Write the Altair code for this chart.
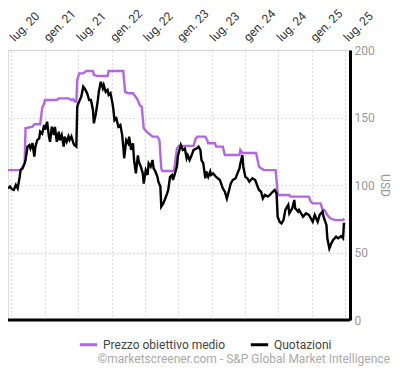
import altair as alt
import pandas as pd

# Prezzo obiettivo medio (average target price), USD
target_dates = ["2020-06-12", "2020-08-20", "2020-08-31", "2020-09-11", "2020-09-16", "2020-10-24",
                "2020-11-03", "2020-12-05", "2020-12-16", "2020-12-27", "2021-01-01", "2021-03-06",
                "2021-03-17", "2021-05-09", "2021-05-25", "2021-06-05", "2021-06-10", "2021-06-21",
                "2021-06-26", "2021-07-07", "2021-07-29", "2021-08-14", "2021-09-20", "2021-09-25",
                "2021-10-17", "2021-12-09", "2021-12-15", "2022-03-05", "2022-03-15", "2022-04-01",
                "2022-04-27", "2022-05-19", "2022-06-04", "2022-06-14", "2022-06-25", "2022-07-11",
                "2022-08-12", "2022-09-08", "2022-09-19", "2022-09-29", "2022-10-05", "2022-12-08",
                "2022-12-24", "2023-01-04", "2023-03-25", "2023-04-04", "2023-04-15", "2023-05-28",
                "2023-06-08", "2023-06-13", "2023-07-20", "2023-07-26", "2023-09-01", "2023-09-12",
                "2023-12-01", "2023-12-06", "2023-12-17", "2024-03-01", "2024-03-17", "2024-03-28",
                "2024-04-13", "2024-06-16", "2024-06-27", "2024-07-02", "2024-08-30", "2024-09-04",
                "2024-12-15", "2024-12-25", "2025-01-05", "2025-02-17", "2025-02-28", "2025-03-10",
                "2025-03-26", "2025-04-11", "2025-05-08", "2025-06-20", "2025-06-25"]
target_values = [111, 111, 113.6, 116, 142, 143.2,
                 145, 145, 157, 160.5, 163, 163,
                 164.2, 164.2, 163, 163.5, 162, 161.7,
                 177.8, 182.7, 182.7, 184.4, 184.4, 181.5,
                 180.7, 180.7, 184.4, 184.4, 169, 168,
                 168, 164, 159, 158, 142, 139.5,
                 135.8, 135.8, 133.3, 112.3, 110.4, 110.4,
                 127, 129, 129, 134, 135.8, 135.8,
                 133, 130.9, 130.9, 128.4, 128.4, 122.2,
                 122.2, 126, 123.7, 123.7, 113.6, 112.3,
                 111, 111, 93.8, 92.6, 92.6, 91.4,
                 91.4, 87.7, 86.4, 86.4, 81.5, 81.5,
                 77.8, 75.3, 74, 74, 75.3]

# Quotazioni (share price), USD
price_dates = ["2020-06-12", "2020-06-23", "2020-07-03", "2020-07-14", "2020-07-25", "2020-08-04",
               "2020-08-15", "2020-08-20", "2020-08-31", "2020-09-11", "2020-09-16", "2020-09-27",
               "2020-10-07", "2020-10-13", "2020-10-24", "2020-11-03", "2020-11-09", "2020-11-19",
               "2020-11-30", "2020-12-05", "2020-12-16", "2020-12-27", "2021-01-01", "2021-01-12",
               "2021-01-22", "2021-01-28", "2021-02-07", "2021-02-18", "2021-02-24", "2021-03-06",
               "2021-03-17", "2021-03-22", "2021-04-02", "2021-04-13", "2021-04-18", "2021-04-29",
               "2021-05-09", "2021-05-15", "2021-05-25", "2021-06-05", "2021-06-10", "2021-06-21",
               "2021-06-26", "2021-07-02", "2021-07-18", "2021-07-29", "2021-08-08", "2021-08-19",
               "2021-08-30", "2021-09-09", "2021-09-20", "2021-09-25", "2021-10-06", "2021-10-17",
               "2021-10-22", "2021-11-02", "2021-11-13", "2021-11-18", "2021-11-29", "2021-12-09",
               "2021-12-15", "2021-12-25", "2022-01-05", "2022-01-10", "2022-01-16", "2022-01-26",
               "2022-02-06", "2022-02-17", "2022-02-27", "2022-03-05", "2022-03-10", "2022-03-21",
               "2022-04-01", "2022-04-06", "2022-04-17", "2022-04-27", "2022-05-03", "2022-05-13",
               "2022-05-24", "2022-05-29", "2022-06-09", "2022-06-20", "2022-06-25", "2022-07-06",
               "2022-07-16", "2022-07-22", "2022-08-02", "2022-08-12", "2022-08-18", "2022-08-28",
               "2022-09-08", "2022-09-13", "2022-09-24", "2022-09-29", "2022-10-10", "2022-10-21",
               "2022-10-31", "2022-11-06", "2022-11-16", "2022-11-27", "2022-12-02", "2022-12-13",
               "2022-12-24", "2022-12-29", "2023-01-09", "2023-01-14", "2023-01-25", "2023-02-05",
               "2023-02-15", "2023-02-21", "2023-03-03", "2023-03-14", "2023-03-25", "2023-04-10",
               "2023-04-21", "2023-05-01", "2023-05-07", "2023-05-17", "2023-05-28", "2023-06-02",
               "2023-06-13", "2023-06-24", "2023-06-29", "2023-07-10", "2023-07-26", "2023-08-16",
               "2023-09-01", "2023-09-12", "2023-09-23", "2023-10-03", "2023-10-14", "2023-10-25",
               "2023-11-10", "2023-11-20", "2023-12-01", "2023-12-06", "2023-12-17", "2023-12-22",
               "2024-01-02", "2024-01-13", "2024-01-24", "2024-02-09", "2024-02-25", "2024-03-06",
               "2024-03-17", "2024-03-28", "2024-04-07", "2024-04-18", "2024-05-04", "2024-05-15",
               "2024-05-31", "2024-06-11", "2024-06-21", "2024-06-27", "2024-07-07", "2024-07-18",
               "2024-07-29", "2024-08-08", "2024-08-24", "2024-08-30", "2024-09-15", "2024-09-26",
               "2024-10-01", "2024-10-17", "2024-10-22", "2024-11-13", "2024-11-29", "2024-12-15",
               "2025-01-05", "2025-01-16", "2025-02-01", "2025-02-12", "2025-02-28", "2025-03-05",
               "2025-03-21", "2025-03-26", "2025-04-06", "2025-04-17", "2025-04-27", "2025-05-13",
               "2025-05-24", "2025-06-09", "2025-06-20", "2025-06-25"]
price_values = [97.5, 98.8, 97, 96.3, 100, 97.5,
                106, 111, 112.3, 116, 118.5, 128.4,
                129.6, 127, 130.9, 121, 128.4, 133.3,
                134.6, 139.5, 138, 144.4, 141, 146.9,
                136, 132, 143.2, 137, 143, 132,
                139.5, 133, 137, 128.4, 135.8, 132,
                136, 133.3, 136, 131, 129.6, 128.4,
                158, 160.5, 165.4, 172.8, 171, 168,
                163, 163, 155.6, 145.7, 153, 163,
                169, 176.5, 171.6, 174, 169, 170.4,
                166.7, 168, 160.5, 155.6, 148, 149.4,
                143.2, 144.4, 137, 128.4, 119.8, 133.3,
                130.9, 135.8, 126, 130.9, 118.5, 108.6,
                122, 117.3, 113.6, 108.6, 101, 111,
                107.4, 116, 113.6, 118.5, 112.3, 110,
                106, 102.4, 98.8, 84, 86.4, 90,
                93.8, 96.3, 106, 107.4, 103.7, 108.6,
                114, 121.5, 127, 129.6, 126, 127,
                119.8, 122, 118.5, 122, 126, 127,
                128.4, 126, 118.5, 116, 105, 110,
                106, 110, 107.4, 108.6, 106, 103.7,
                97.5, 95, 90, 95, 101, 103.7,
                105, 108.6, 112.3, 116, 122.2, 113.6,
                106, 105, 102.4, 105, 103.7, 100,
                96.3, 95, 90, 92.6, 91.4, 92.6,
                95, 96.3, 93.8, 76.5, 72.8, 71.6,
                74, 81.5, 85.2, 79, 82.7, 88.9,
                82.7, 80.2, 81.5, 76.5, 79, 77.8,
                72.8, 77.8, 72.8, 77.8, 80.2, 76.5,
                70.4, 60.5, 53, 56.8, 59.3, 61.7,
                60.5, 62.2, 60.5, 72]

series_names = ["Prezzo obiettivo medio", "Quotazioni"]
series_colors = ["#b366e3", "#000000"]
y_ticks = [0, 50, 100, 150, 200]
x_tick_dates = [(2020, 7), (2021, 1), (2021, 7), (2022, 1), (2022, 7), (2023, 1),
                (2023, 7), (2024, 1), (2024, 7), (2025, 1), (2025, 7)]
credit = "©marketscreener.com - S&P Global Market Intelligence"

df = pd.concat([
    pd.DataFrame({"date": target_dates, "value": target_values, "series": series_names[0]}),
    pd.DataFrame({"date": price_dates, "value": price_values, "series": series_names[1]}),
])

FONT = "Roboto"

x_scale = alt.Scale(type="utc", domain=[alt.DateTime(year=2020, month=6, date=12, utc=True),
                                        alt.DateTime(year=2025, month=7, date=28, utc=True)])
y_scale = alt.Scale(domain=[0, 200], nice=False)

x_axis = alt.Axis(
    orient="top",
    values=[alt.DateTime(year=y, month=m, date=1, utc=True) for y, m in x_tick_dates],
    labelExpr="(utcmonth(datum.value) == 0 ? 'gen. ' : 'lug. ') + utcFormat(datum.value, '%y')",
    labelAngle=315, labelAlign="left", labelBaseline="middle", labelPadding=11,
    labelOverlap=False, labelBound=False, labelFlush=False,
    labelColor="#333", labelFontSize=12, labelFont=FONT,
    grid=True, gridDash=[1, 3], gridColor="#bbbbbb", gridWidth=1,
    ticks=False, domain=False, title=None,
)
y_axis = alt.Axis(
    orient="right", values=y_ticks,
    grid=True, gridDash=[1, 3], gridColor="#bbbbbb", gridWidth=1,
    domain=True, domainColor="#000000", domainWidth=3,
    ticks=False, labelColor="#999999", labelFontSize=12, labelFont=FONT, labelPadding=4,
    title="USD", titleColor="#999999", titleFontSize=12, titleFont=FONT,
    titleFontWeight="normal", titleAngle=90, titlePadding=3,
)

lines = alt.Chart(df).mark_line(strokeWidth=2.4).encode(
    x=alt.X("date:T", scale=x_scale, axis=x_axis),
    y=alt.Y("value:Q", scale=y_scale, axis=y_axis),
    color=alt.Color("series:N",
                    scale=alt.Scale(domain=series_names, range=series_colors),
                    sort=series_names,
                    legend=alt.Legend(orient="none", legendX=70, legendY=284, direction="horizontal",
                                      title=None, symbolType="stroke", symbolStrokeWidth=3,
                                      symbolSize=300, labelFontSize=12, labelFont=FONT,
                                      labelColor="#444444", columnPadding=18, symbolOffset=0)),
    order=alt.Order("series:N"),
)

base_rule = alt.Chart(pd.DataFrame({"v": [0]})).mark_rule(color="#000000", strokeWidth=3).encode(
    y=alt.Y("v:Q", scale=y_scale),
)

credit_text = alt.Chart(pd.DataFrame({"t": [credit]})).mark_text(
    align="right", baseline="middle", color="#aaaaaa", fontSize=12, font=FONT
).encode(text="t:N", x=alt.value(382), y=alt.value(309))

chart = alt.layer(lines, base_rule, credit_text).properties(
    width=342, height=270,
    padding={"left": 0, "top": 42, "right": 42, "bottom": 47},
    autosize=alt.AutoSizeParams(type="none"),
).configure_view(stroke=None).configure(font=FONT)

chart.save("out.html", embed_options={"renderer": "svg", "actions": False})
